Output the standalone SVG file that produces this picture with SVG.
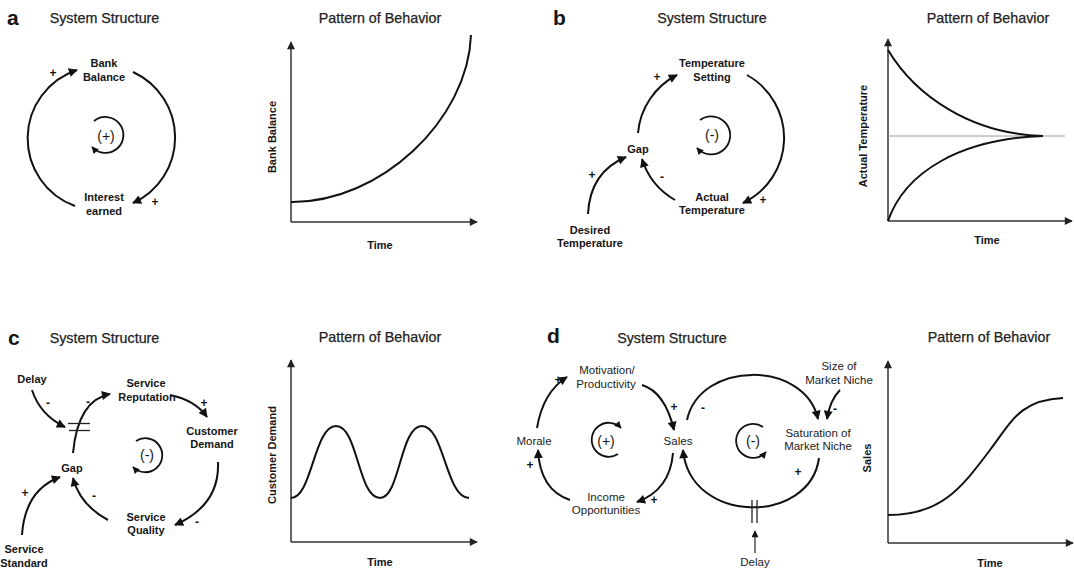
<svg xmlns="http://www.w3.org/2000/svg" width="1074" height="573" viewBox="0 0 1074 573">
  <defs>
    <marker id="ah" viewBox="0 0 10 10" refX="9" refY="5" markerWidth="11" markerHeight="9" markerUnits="userSpaceOnUse" orient="auto">
      <path d="M0,0 L10,5 L0,10 z" fill="#111"/>
    </marker>
    <marker id="ahs" viewBox="0 0 10 10" refX="9" refY="5" markerWidth="8" markerHeight="7" markerUnits="userSpaceOnUse" orient="auto">
      <path d="M0,0 L10,5 L0,10 z" fill="#111"/>
    </marker>
    <marker id="axh" viewBox="0 0 10 10" refX="9" refY="5" markerWidth="10" markerHeight="8" markerUnits="userSpaceOnUse" orient="auto">
      <path d="M0,0 L10,5 L0,10 z" fill="#222"/>
    </marker>
  </defs>
  <style>
    text { font-family: "Liberation Sans", Arial, sans-serif; fill: #151515; }
    .letter { font-size: 21px; font-weight: bold; }
    .title { font-size: 14.3px; text-anchor: middle; fill: #222; stroke: #222; stroke-width: 0.25; }
    .lbl { font-size: 11px; font-weight: bold; text-anchor: middle; }
    .lbd { font-size: 11.5px; text-anchor: middle; fill: #222; }
    .sign { font-size: 12px; font-weight: bold; text-anchor: middle; }
    .loop { font-size: 14px; text-anchor: middle; }
    .link { fill: none; stroke: #111; stroke-width: 2; marker-end: url(#ah); }
    .inner { fill: none; stroke: #111; stroke-width: 1.8; marker-end: url(#ahs); }
    .axis { fill: none; stroke: #333; stroke-width: 1.5; marker-end: url(#axh); }
    .curve { fill: none; stroke: #111; stroke-width: 2; }
    .mark { stroke: #222; stroke-width: 1.3; }
  </style>

  <!-- Panel letters and titles -->
  <g id="headings">
    <text class="letter" x="7" y="25">a</text>
    <text class="title" x="104.5" y="23">System Structure</text>
    <text class="title" x="380" y="23">Pattern of Behavior</text>
    <text class="letter" x="553" y="25">b</text>
    <text class="title" x="712" y="23">System Structure</text>
    <text class="title" x="988" y="23">Pattern of Behavior</text>
    <text class="letter" x="8" y="345">c</text>
    <text class="title" x="104.5" y="343">System Structure</text>
    <text class="title" x="380" y="342">Pattern of Behavior</text>
    <text class="letter" x="547" y="343">d</text>
    <text class="title" x="672" y="343">System Structure</text>
    <text class="title" x="989" y="342">Pattern of Behavior</text>
  </g>

  <!-- Panel a: reinforcing loop -->
  <g id="a-bank-balance"><text class="lbl" x="104" y="67">Bank</text><text class="lbl" x="104" y="81">Balance</text></g>
  <g id="a-interest"><text class="lbl" x="104" y="201">Interest</text><text class="lbl" x="104" y="215">earned</text></g>
  <g id="a-loop"><path class="inner" d="M94,121 A18,18 0 1 1 92,147"/><text class="loop" x="106" y="140.5">(+)</text></g>

  <!-- Panel b: balancing loop -->
  <g id="b-setting"><text class="lbl" x="712" y="67">Temperature</text><text class="lbl" x="712" y="81">Setting</text></g>
  <g id="b-gap"><text class="lbl" x="638" y="153">Gap</text></g>
  <g id="b-actual"><text class="lbl" x="712" y="201">Actual</text><text class="lbl" x="712" y="214">Temperature</text></g>
  <g id="b-desired"><text class="lbl" x="590" y="234">Desired</text><text class="lbl" x="590" y="247">Temperature</text></g>
  <g id="b-loop"><path class="inner" d="M700,120 A19,19 0 1 1 697,148"/><text class="loop" x="712" y="139.5">(-)</text></g>

  <!-- Panel c: balancing loop with delay -->
  <g id="c-delay"><text class="lbl" x="32" y="383">Delay</text></g>
  <g id="c-reputation"><text class="lbl" x="146" y="387">Service</text><text class="lbl" x="147" y="401">Reputation</text></g>
  <g id="c-demand"><text class="lbl" x="212" y="435">Customer</text><text class="lbl" x="212" y="448">Demand</text></g>
  <g id="c-gap"><text class="lbl" x="72" y="472">Gap</text></g>
  <g id="c-quality"><text class="lbl" x="146" y="521">Service</text><text class="lbl" x="146" y="534">Quality</text></g>
  <g id="c-standard"><text class="lbl" x="24" y="553">Service</text><text class="lbl" x="24" y="567">Standard</text></g>
  <g id="c-loop"><path class="inner" d="M136,441 A17,17 0 1 1 133,467"/><text class="loop" x="147" y="459.5">(-)</text></g>

  <!-- Panel d: coupled loops -->
  <g id="d-motivation"><text class="lbd" x="607" y="374">Motivation/</text><text class="lbd" x="606" y="388">Productivity</text></g>
  <g id="d-morale"><text class="lbd" x="534" y="445">Morale</text></g>
  <g id="d-sales"><text class="lbd" x="678" y="445">Sales</text></g>
  <g id="d-income"><text class="lbd" x="606" y="501">Income</text><text class="lbd" x="606" y="514">Opportunities</text></g>
  <g id="d-niche-size"><text class="lbd" x="839" y="370">Size of</text><text class="lbd" x="839" y="384">Market Niche</text></g>
  <g id="d-saturation"><text class="lbd" x="818" y="437">Saturation of</text><text class="lbd" x="818" y="450">Market Niche</text></g>
  <g id="d-delay"><text class="lbd" x="755" y="566">Delay</text></g>
  <g id="d-loop-r"><path class="inner" d="M618,454 A17,17 0 1 1 621,428"/><text class="loop" x="606" y="445.5">(+)</text></g>
  <g id="d-loop-b"><path class="inner" d="M763,427 A17,17 0 1 0 766,452"/><text class="loop" x="753" y="445.5">(-)</text></g>

  <!-- Causal links -->
  <g id="connectors">
    <!-- a -->
    <path class="link" d="M75,206 A72,72 0 0 1 77,70"/>
    <path class="link" d="M133,72 A72,72 0 0 1 133,203"/>
    <!-- b -->
    <path class="link" d="M638,133 A72,72 0 0 1 677,75"/>
    <path class="link" d="M747,75 A72,72 0 0 1 743,203"/>
    <path class="link" d="M675,200 A72,72 0 0 1 642,159"/>
    <path class="link" d="M588,214 Q590,172 626,157"/>
    <!-- c -->
    <path class="link" d="M32,390 Q40,415 65,427"/>
    <path class="link" d="M73,453 Q78,400 110,394"/>
    <line class="mark" x1="68" y1="423.5" x2="90" y2="423.5"/>
    <line class="mark" x1="69" y1="430.5" x2="90" y2="430.5"/>
    <path class="link" d="M170,395 Q195,400 207,417"/>
    <path class="link" d="M218,462 Q220,505 175,525"/>
    <path class="link" d="M108,520 Q80,505 73,478"/>
    <path class="link" d="M22,535 Q25,490 60,477"/>
    <!-- d -->
    <path class="link" d="M537,428 Q543,392 567,377"/>
    <path class="link" d="M642,385 Q665,392 674,430"/>
    <path class="link" d="M673,453 Q670,490 637,502"/>
    <path class="link" d="M570,500 Q540,490 538,450"/>
    <path class="link" d="M687,420 C700,360 805,360 818,419"/>
    <path class="link" d="M840,390 Q830,400 827,419"/>
    <path class="link" d="M819,458 C810,525 690,525 683,450"/>
    <line class="mark" x1="752" y1="500" x2="752" y2="523"/>
    <line class="mark" x1="757" y1="500" x2="757" y2="523"/>
    <path d="M755,553 L755,531" fill="none" stroke="#222" stroke-width="1.2" marker-end="url(#ahs)"/>
  </g>

  <!-- Link polarities -->
  <g id="polarities">
    <text class="sign" x="53" y="77">+</text>
    <text class="sign" x="155" y="206">+</text>
    <text class="sign" x="657" y="81">+</text>
    <text class="sign" x="763" y="204">+</text>
    <text class="sign" x="662" y="181">-</text>
    <text class="sign" x="592" y="179">+</text>
    <text class="sign" x="48" y="407">-</text>
    <text class="sign" x="88" y="406">-</text>
    <text class="sign" x="204" y="407">+</text>
    <text class="sign" x="197" y="526">-</text>
    <text class="sign" x="94" y="500">-</text>
    <text class="sign" x="25" y="497">+</text>
    <text class="sign" x="558" y="384">+</text>
    <text class="sign" x="674" y="411">+</text>
    <text class="sign" x="654" y="504">+</text>
    <text class="sign" x="530" y="469">+</text>
    <text class="sign" x="703" y="412">-</text>
    <text class="sign" x="835" y="413">-</text>
    <text class="sign" x="798" y="476">+</text>
  </g>

  <!-- Behaviour-over-time graphs -->
  <g id="graph-a">
    <path class="axis" d="M291,222 L291,42"/>
    <path class="axis" d="M291,222 L477,222"/>
    <path class="curve" d="M291,202 C380,203 468,120 471,35"/>
    <text class="lbl" transform="translate(276,137) rotate(-90)">Bank Balance</text>
    <text class="lbl" x="380" y="249">Time</text>
  </g>
  <g id="graph-b">
    <path class="axis" d="M888,221 L888,39"/>
    <path class="axis" d="M888,221 L1072,221"/>
    <line x1="888" y1="136" x2="1065" y2="136" stroke="#9a9a9a" stroke-width="1"/>
    <path class="curve" d="M888,50 C915,95 970,134 1043,136"/>
    <path class="curve" d="M888,221 C905,172 960,139 1043,136"/>
    <text class="lbl" transform="translate(867,136) rotate(-90)">Actual Temperature</text>
    <text class="lbl" x="987" y="244">Time</text>
  </g>
  <g id="graph-c">
    <path class="axis" d="M291,542 L291,360"/>
    <path class="axis" d="M291,542 L477,542"/>
    <path class="curve" d="M291,498 C312,498 314,426 336,426 C358,426 358,498 380,498 C400,498 400,426 422,426 C444,426 446,498 469,498"/>
    <text class="lbl" transform="translate(276,455) rotate(-90)">Customer Demand</text>
    <text class="lbl" x="380" y="566">Time</text>
  </g>
  <g id="graph-d">
    <path class="axis" d="M888,543 L888,361"/>
    <path class="axis" d="M888,543 L1073,543"/>
    <path class="curve" d="M888,515 C940,515 960,490 990,450 C1012,421 1020,400 1063,398"/>
    <text class="lbl" transform="translate(871,458) rotate(-90)">Sales</text>
    <text class="lbl" x="990" y="567">Time</text>
  </g>
</svg>
